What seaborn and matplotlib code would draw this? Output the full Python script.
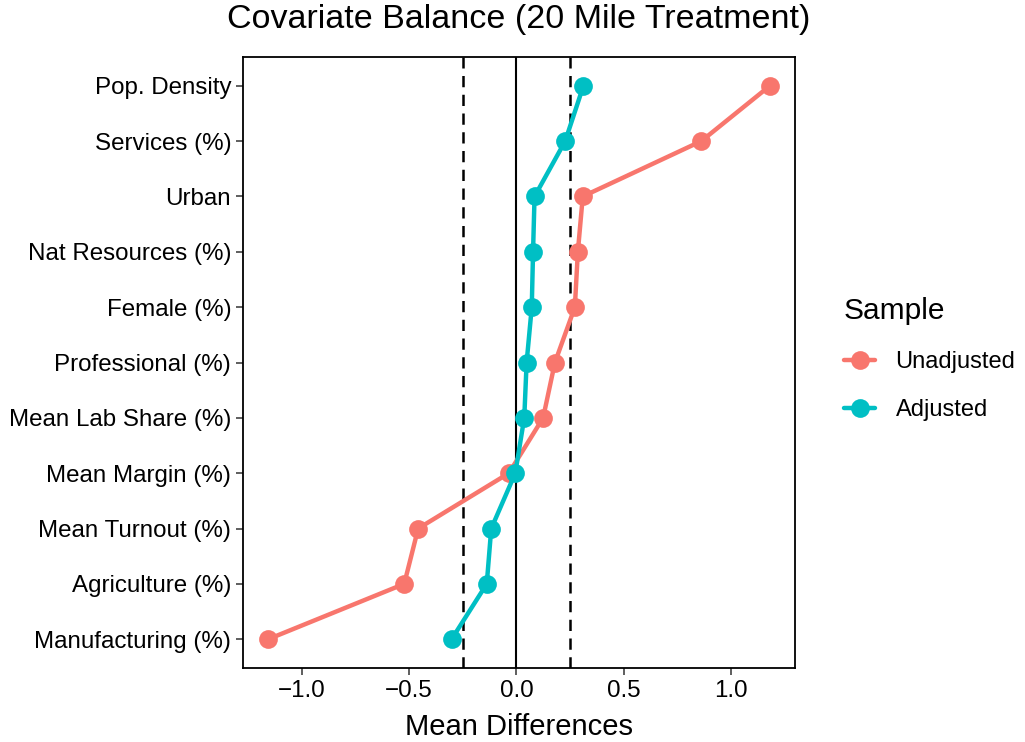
import numpy as np
import pandas as pd
import matplotlib
matplotlib.use("Agg")
import matplotlib.pyplot as plt
import seaborn as sns

# covariates, top of the chart first
covariates = ["Pop. Density", "Services (%)", "Urban", "Nat Resources (%)",
              "Female (%)", "Professional (%)", "Mean Lab Share (%)",
              "Mean Margin (%)", "Mean Turnout (%)", "Agriculture (%)",
              "Manufacturing (%)"]
unadjusted = [1.183, 0.863, 0.31, 0.287, 0.273, 0.18, 0.125, -0.035, -0.458, -0.523, -1.158]
adjusted = [0.313, 0.228, 0.085, 0.078, 0.072, 0.048, 0.037, -0.005, -0.117, -0.138, -0.302]
samples = ["Unadjusted", "Adjusted"]
colors = ["#F8766D", "#00BFC4"]
threshold = 0.25

sns.set_style("white")
plt.rcParams['font.family'] = ['Liberation Sans', 'DejaVu Sans']
plt.rcParams['text.color'] = 'black'

n = len(covariates)
pos = list(range(n - 1, -1, -1))
df = pd.DataFrame({
    "covariate": covariates * 2,
    "pos": pos * 2,
    "diff": unadjusted + adjusted,
    "Sample": [samples[0]] * n + [samples[1]] * n,
})

fig = plt.figure(figsize=(10.25, 7.42), dpi=100)
ax = fig.add_axes([0.2371, 0.0997, 0.7756 - 0.2371, 0.9232 - 0.0997])

ax.axvline(0, color="black", lw=1.5, zorder=1)
ax.axvline(-threshold, color="black", lw=1.8, ls=(0, (4.5, 3)), zorder=1)
ax.axvline(threshold, color="black", lw=1.8, ls=(0, (4.5, 3)), zorder=1)

sns.lineplot(data=df, x="diff", y="pos", hue="Sample", hue_order=samples,
             palette=colors, orient="y", marker="o", markersize=13.5,
             markeredgewidth=0, lw=3.2, ax=ax, zorder=3)

ax.set_xlim(-1.275, 1.3)
ax.set_ylim(-0.52, n - 1 + 0.52)
ax.set_yticks(pos)
ax.set_yticklabels(covariates)
ax.set_xticks([-1.0, -0.5, 0.0, 0.5, 1.0])
ax.set_xticklabels(["\u22121.0", "\u22120.5", "0.0", "0.5", "1.0"])
ax.tick_params(axis="both", labelsize=17.4, colors="#333333", labelcolor="black",
               length=5, width=1.1, left=True, bottom=True, direction="out")
for s in ax.spines.values():
    s.set_color("black")
    s.set_linewidth(1.3)

ax.set_xlabel("Mean Differences", fontsize=21, color="black", labelpad=8)
ax.set_ylabel("")
ax.set_title("Covariate Balance (20 Mile Treatment)", fontsize=24.5, pad=21,
             color="black")

leg = ax.legend(title="Sample", loc="center left", bbox_to_anchor=(1.088, 0.505),
                frameon=False, fontsize=17, title_fontsize=21.5,
                borderaxespad=0, borderpad=0,
                handlelength=1.35, labelspacing=1.1, handletextpad=0.85)
leg._legend_box.align = "left"
for t in leg.get_texts():
    t.set_color("black")

fig.savefig("out.png", dpi=100)
